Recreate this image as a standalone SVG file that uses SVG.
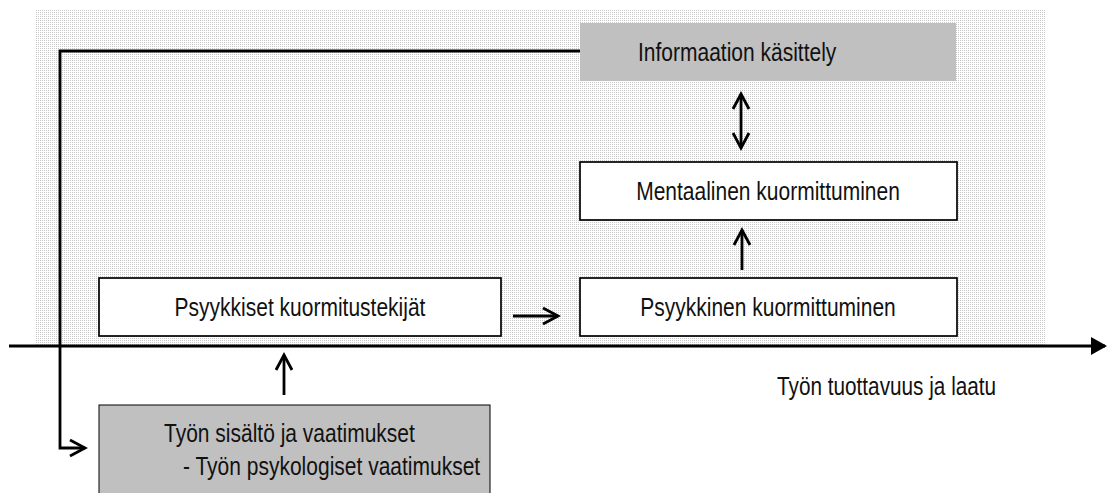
<svg xmlns="http://www.w3.org/2000/svg" width="1114" height="493" viewBox="0 0 1114 493">
<defs>
<pattern id="dots" width="2" height="2" patternUnits="userSpaceOnUse">
<rect width="2" height="2" fill="#ffffff"/>
<rect width="1" height="1" fill="#c8c8c8"/>
</pattern>
<marker id="open" viewBox="0 0 20 20" refX="17" refY="10" markerWidth="20" markerHeight="20" markerUnits="userSpaceOnUse" orient="auto-start-reverse">
<path d="M2,2 L17,10 L2,18" fill="none" stroke="#000" stroke-width="2.8"/>
</marker>
<marker id="solid" viewBox="0 0 16 18" refX="14" refY="9" markerWidth="16" markerHeight="18" markerUnits="userSpaceOnUse" orient="auto">
<path d="M0,0 L16,9 L0,18 Z" fill="#000"/>
</marker>
</defs>
<style>
text{font-family:"Liberation Sans",Arial,sans-serif;font-size:25px;fill:#111}
.box{fill:#fff;stroke:#000;stroke-width:1.7}
.gray{fill:#c0c0c0}
.line{fill:none;stroke:#000;stroke-width:2.8}
.mid{text-anchor:middle}
</style>
<rect x="36" y="9" width="1009" height="337" fill="url(#dots)"/>
<g id="connectors">
<polyline class="line" points="580,51 60,51 60,448 85,448" marker-end="url(#open)"/>
<line class="line" x1="9" y1="346" x2="1105" y2="346" marker-end="url(#solid)"/>
<line class="line" x1="284" y1="395" x2="284" y2="355" marker-end="url(#open)"/>
<line class="line" x1="513" y1="316" x2="558" y2="316" marker-end="url(#open)"/>
<line class="line" x1="742" y1="270" x2="742" y2="230" marker-end="url(#open)"/>
<line class="line" x1="741" y1="94" x2="741" y2="148" marker-start="url(#open)" marker-end="url(#open)"/>
</g>
<g id="info">
<rect class="gray" x="580" y="23" width="376" height="58"/>
<text transform="translate(638,61) scale(0.84,1)">Informaation käsittely</text>
</g>
<g id="mentaalinen">
<rect class="box" x="580" y="162" width="377" height="58"/>
<text class="mid" transform="translate(768,200) scale(0.84,1)">Mentaalinen kuormittuminen</text>
</g>
<g id="psyykkiset">
<rect class="box" x="99" y="278" width="402" height="58"/>
<text class="mid" transform="translate(300,316) scale(0.84,1)">Psyykkiset kuormitustekijät</text>
</g>
<g id="psyykkinen">
<rect class="box" x="580" y="278" width="377" height="58"/>
<text class="mid" transform="translate(768,316) scale(0.84,1)">Psyykkinen kuormittuminen</text>
</g>
<g id="tuottavuus">
<text transform="translate(777,395) scale(0.83,1)">Työn tuottavuus ja laatu</text>
</g>
<g id="tyon">
<rect class="gray" x="99" y="405" width="391" height="100" stroke="#000" stroke-width="1"/>
<text transform="translate(164,442) scale(0.84,1)">Työn sisältö ja vaatimukset</text>
<text transform="translate(183,475) scale(0.84,1)">- Työn psykologiset vaatimukset</text>
</g>
</svg>
